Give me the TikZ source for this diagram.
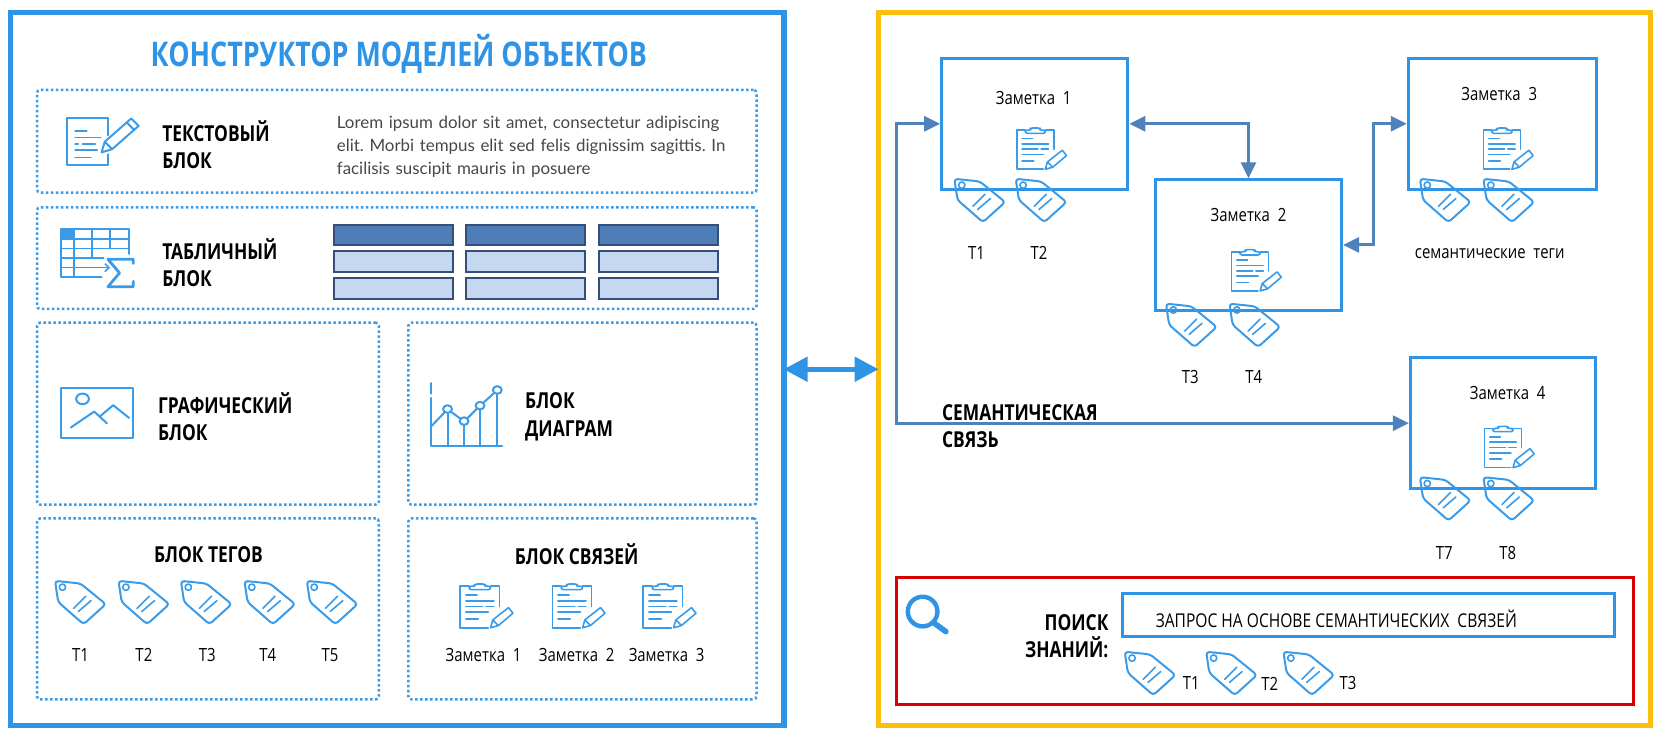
\documentclass[tikz,border=0pt]{standalone}
\usepackage{fontspec}
\setmainfont{Open Sans}
\newfontfamily\cond[FakeStretch=0.82]{Open Sans}
\newfontfamily\condb[FakeStretch=0.79]{Open Sans}
\newfontfamily\lorfont{Lato}
\usetikzlibrary{arrows.meta,fit}
\definecolor{mblue}{HTML}{2F93E6}
\definecolor{iblue}{HTML}{3A9BE8}
\definecolor{lnk}{HTML}{4F81BD}
\definecolor{gold}{HTML}{FBBF10}
\definecolor{hdr}{HTML}{4F7DB8}
\definecolor{rowc}{HTML}{C6D7F0}
\definecolor{edge}{HTML}{34507A}
\tikzset{
  frame/.style={draw=#1,line width=2.6pt,inner sep=0pt},
  dots/.style={draw=iblue,line width=1.25pt,dash pattern=on 1.25pt off 1.25pt,rounded corners=1.5pt,inner sep=0pt},
  notebox/.style={draw=mblue,line width=1.5pt,inner sep=0pt},
  link/.style={draw=lnk,line width=1.5pt,{Triangle[length=8pt,width=7.5pt]}-{Triangle[length=8pt,width=7.5pt]}},
  head/.style={font=\condb\bfseries\fontsize{11}{11}\selectfont,anchor=west,inner sep=0pt},
  lab/.style={font=\cond\fontsize{9.1}{10}\selectfont,inner sep=0pt},
  cell/.style={draw=edge,line width=1pt,inner sep=0pt},
  icon/.style={draw=iblue,line width=1pt,line cap=round,line join=round},
  thin icon/.style={icon,line width=0.8pt},
  pics/tag/.style={code={
    \draw[icon,rounded corners=1.6pt] (0,0) -- (24,2.5) -- (48,22) -- (27,41) -- (3,20) -- cycle;
    \draw[thin icon] (7,6) circle[radius=3];
    \draw[thin icon] (17.5,26) -- (29,14.5) (22,29) -- (34,18.7);
  }},
  pics/note/.style={code={
    \draw[thin icon] (8,2) -- (0,2) -- (0,39) -- (25,39) (35,20) -- (35,2) -- (27,2);
    \draw[thin icon,rounded corners=1pt] (8,5) -- (8,2) -- (13,2) -- (13,0) -- (22,0) -- (22,2) -- (27,2) -- (27,5) -- cycle;
    \draw[thin icon] (5,10) -- (15,10) (5,15) -- (30,15) (5,20) -- (20,20) (23,20) -- (30,20) (5,25) -- (25,25) (5,31) -- (16,31);
    \draw[thin icon] (27,39) -- (29,32) -- (43,21) -- (47,26) -- (34,37) -- cycle (29,32) -- (34,37);
  }},
}
\begin{document}
\begin{tikzpicture}[x=0.529pt,y=-0.529pt]
\useasboundingbox (0,0) rectangle (1568,700.4);
\node[frame=mblue,fit={(10,12)(741,686)}] (left) {};
\node[frame=gold,fit={(830,12)(1560,686)}] (right) {};
\draw[draw=mblue,line width=2.6pt,shorten <=-1.5pt,shorten >=-1.5pt,{Triangle[length=12pt,width=12pt]}-{Triangle[length=12pt,width=12pt]}] (left.east) -- (right.west);

\node[font=\condb\bfseries\fontsize{17}{17}\selectfont,text=mblue,inner sep=0pt] (title) at (377,51) {КОНСТРУКТОР МОДЕЛЕЙ ОБЪЕКТОВ};

\node[dots,fit={(35,85)(715,182)}] (btext) {};
\node[dots,fit={(35,196)(715,292)}] (btable) {};
\node[dots,fit={(35,305)(358,477)}] (bgraph) {};
\node[dots,fit={(386,305)(715,477)}] (bchart) {};
\node[dots,fit={(35,490)(358,661)}] (btags) {};
\node[dots,fit={(386,490)(715,661)}] (blinks) {};

% text block
\draw[icon] (102,128) -- (102,112) -- (63,112) -- (63,156) -- (102,156) -- (102,146);
\draw[thin icon] (71,124) -- (82,124) (71,130) -- (95,130) (71,136) -- (74,136) (78,136) -- (90,136) (71,142) -- (92,142) (71,149) -- (86,149);
\draw[icon] (96,144) -- (99,134) -- (124,112) -- (131,119) -- (106,141) -- cycle (99,134) -- (106,141) (120,116) -- (127,123);
\node[head,text width=100pt,align=left] (ttext) at (153,137) {ТЕКСТОВЫЙ\\[2.6pt]БЛОК};
\node[font=\lorfont\frenchspacing\fontsize{8.45}{11.4}\selectfont,text=black!72,anchor=west,inner sep=0pt,text width=215pt,align=left] (lorem) at (318,138.5) {Lorem ipsum dolor sit amet, consectetur adipiscing\\elit. Morbi tempus elit sed felis dignissim sagittis. In\\facilisis suscipit mauris in posuere};

% table block
\fill[iblue] (58,216.5) rectangle (70,226);
\draw[icon] (96,262) -- (58,262) -- (58,216.5) -- (122,216.5) -- (122,240);
\draw[thin icon] (58,226) -- (122,226) (58,235) -- (122,235) (58,244) -- (98,244) (58,253) -- (90,253) (70,216.5) -- (70,262) (87,216.5) -- (87,244) (104,216.5) -- (104,235);
\draw[icon,line width=1.4pt] (126,249) -- (126,245) -- (102,245) -- (113,258) -- (102,271) -- (126,271) -- (126,266);
\draw[thin icon,-{Straight Barb[length=2pt]}] (70,253) -- (104,253);
\node[head,text width=100pt,align=left] (ttable) at (153,248) {ТАБЛИЧНЫЙ\\[2.6pt]БЛОК};
\foreach \n/\xa/\xb in {a/316/428,b/440/553,c/566/679}{
  \node[cell,fill=hdr,fit={(\xa,213)(\xb,232)}] (r1\n) {};
  \node[cell,fill=rowc,fit={(\xa,237)(\xb,257)}] (r2\n) {};
  \node[cell,fill=rowc,fit={(\xa,263)(\xb,283)}] (r3\n) {};
}

% graphic block
\draw[icon,line width=1.1pt,line cap=butt] (58,367) rectangle (126,414);
\draw[icon] (78,377) ellipse[x radius=6,y radius=5];
\draw[icon] (67,404) -- (89,389) -- (101,400) (95,393) -- (107,383) -- (122,395);
\node[head,text width=100pt,align=left] (tgraph) at (149,394) {ГРАФИЧЕСКИЙ\\[2.6pt]БЛОК};

% chart block
\draw[icon] (407,362) -- (407,372) (407,376) -- (407,422) -- (474.6,422);
\draw[icon] (407,403.5) -- (420.5,389.5) (426,389) -- (435.5,396) (441.5,395.5) -- (451,386) (456.5,381) -- (467.5,371);
\foreach \cx/\cy in {423/386.6,438.6/398,453.7/383.4,470/368.6}{\draw[icon] (\cx,\cy) ellipse[x radius=4.2,y radius=3.6];}
\draw[icon] (423,390.5) -- (423,422) (438.6,402) -- (438.6,422) (453.7,387.5) -- (453.7,422) (470,372.5) -- (470,422);
\node[head,text width=100pt,align=left] (tchart) at (496,394) {БЛОК\\[2.6pt]ДИАГРАМ};

% tag block
\node[head,anchor=center] (ttags) at (197,524) {БЛОК ТЕГОВ};
\foreach \x in {52,112,171,231,290}{
  \pic at (\x,549) {tag};
}
\node[lab] (tg1) at (76,619) {Т1};
\node[lab] (tg2) at (136,619) {Т2};
\node[lab] (tg3) at (196,619) {Т3};
\node[lab] (tg4) at (253,619) {Т4};
\node[lab] (tg5) at (312,619) {Т5};

% link block
\node[head,anchor=center] (tlinks) at (545,524) {БЛОК СВЯЗЕЙ};
\foreach \x in {435,522,608}{\pic[scale=1.06] at (\x,552) {note};}
\node[lab] (ln1) at (457,619) {Заметка\ \ 1};
\node[lab] (ln2) at (545,619) {Заметка\ \ 2};
\node[lab] (ln3) at (630,619) {Заметка\ \ 3};

% notes
\node[notebox,fit={(890,55)(1066,179)}] (note1) {};
\node[notebox,fit={(1092,170)(1268,293)}] (note2) {};
\node[notebox,fit={(1331,55)(1509,179)}] (note3) {};
\node[notebox,fit={(1333,338)(1508,462)}] (note4) {};
\coordinate (busA) at (847,250);
\coordinate (busB) at (1298,175);
\draw[link] (note1.east) -| (note2.north);
\draw[link] (note2.east) -| (busB) |- (note3.west);
\draw[link] (note1.west) -| (busA) |- (note4.west);

\node[lab] (n1t) at (977,93) {Заметка\ \ 1};
\node[lab] (n2t) at (1180,203) {Заметка\ \ 2};
\node[lab] (n3t) at (1417,89) {Заметка\ \ 3};
\node[lab] (n4t) at (1425,371) {Заметка\ \ 4};
\foreach \x/\y in {961/121,1164/236,1402/121,1403/403}{\pic at (\x,\y) {note};}
\foreach \x/\y in {902/169,960/169,1102/287,1162/287,1342/169,1402/169,1342/451,1402/451}{\pic at (\x,\y) {tag};}
\node[lab] (m1) at (923,239) {Т1};
\node[lab] (m2) at (982,239) {Т2};
\node[lab] (m3) at (1125,356) {Т3};
\node[lab] (m4) at (1185,356) {Т4};
\node[lab] (m7) at (1365,523) {Т7};
\node[lab] (m8) at (1425,523) {Т8};
\node[lab] (sem) at (1408,240) {семантические\ \ теги};
\node[head,text width=120pt,align=left] (semlink) at (890,403) {СЕМАНТИЧЕСКАЯ\\[2.6pt]СВЯЗЬ};

% search
\node[draw=red!85!black,line width=1.5pt,inner sep=0pt,fit={(847,546)(1544,666)}] (search) {};
\node[notebox,fit={(1061,561)(1526,602)}] (query) {};
\node[lab,font=\cond\fontsize{9.5}{10}\selectfont,anchor=west] (qt) at (1092,585) {ЗАПРОС НА ОСНОВЕ СЕМАНТИЧЕСКИХ\ \ СВЯЗЕЙ};
\node[head,anchor=east,text width=70pt,align=right] (find) at (1048,601) {ПОИСК\\[2.6pt]ЗНАНИЙ:};
\draw[draw=mblue,line width=2.2pt] (872,578) circle[radius=14];
\draw[draw=mblue,line width=2.8pt,line cap=round] (883,589) -- (894,597);
\foreach \x in {1063,1140,1213}{\pic at (\x,616) {tag};}
\node[lab] (q1) at (1126,646) {Т1};
\node[lab] (q2) at (1200,646) {Т2};
\node[lab] (q3) at (1274,646) {Т3};
\end{tikzpicture}
\end{document}
